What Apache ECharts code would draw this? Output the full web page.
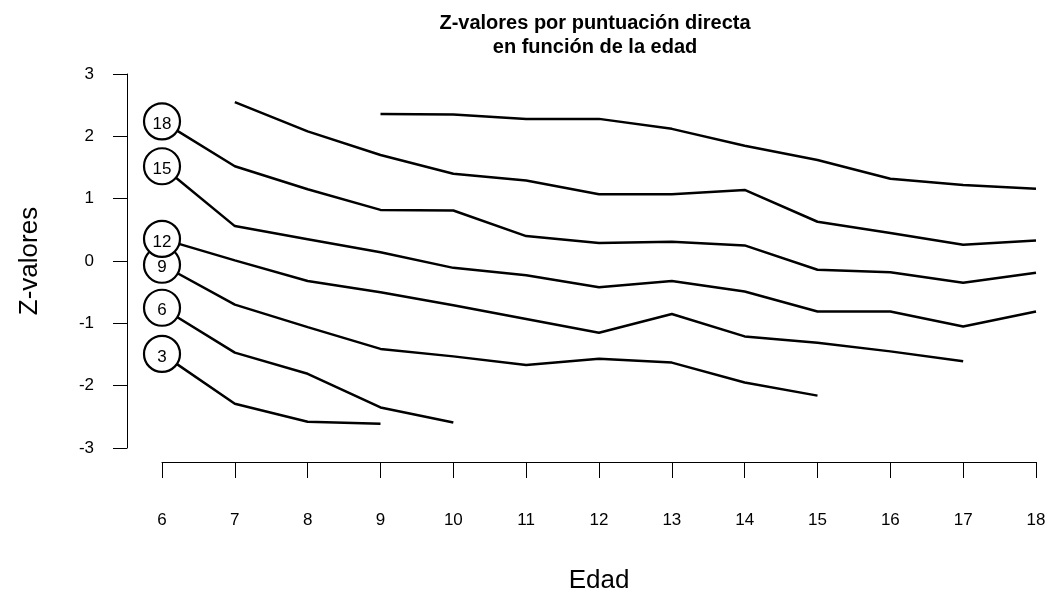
<!DOCTYPE html>
<html>
<head>
<meta charset="utf-8">
<script src="https://cdn.jsdelivr.net/npm/echarts@6/dist/echarts.min.js"></script>
<style>
  html, body { margin: 0; padding: 0; background: #fff; }
  #chart { width: 1051px; height: 599px; }
</style>
</head>
<body>
<div id="chart"></div>
<script>
// edades (eje x)
var ages = [6, 7, 8, 9, 10, 11, 12, 13, 14, 15, 16, 17, 18];
var yTicks = [-3, -2, -1, 0, 1, 2, 3];

// z-valores por puntuacion directa (null = sin dato)
var pd3  = [-1.49, -2.29, -2.58, -2.61, null, null, null, null, null, null, null, null, null];
var pd6  = [-0.75, -1.47, -1.81, -2.35, -2.59, null, null, null, null, null, null, null, null];
var pd9  = [-0.06, -0.70, -1.06, -1.41, -1.53, -1.67, -1.57, -1.63, -1.95, -2.16, null, null, null];
var pd12 = [0.355, 0.01, -0.32, -0.50, -0.71, -0.93, -1.15, -0.85, -1.21, -1.31, -1.45, -1.61, null];
var pd15 = [1.52, 0.56, 0.35, 0.14, -0.11, -0.23, -0.42, -0.32, -0.49, -0.81, -0.81, -1.05, -0.81];
var pd18 = [2.24, 1.52, 1.15, 0.82, 0.81, 0.40, 0.29, 0.31, 0.25, -0.14, -0.18, -0.35, -0.19];
var pd21 = [null, 2.55, 2.08, 1.70, 1.40, 1.29, 1.07, 1.07, 1.14, 0.63, 0.45, 0.26, 0.33];
var pd24 = [null, null, null, 2.36, 2.35, 2.28, 2.28, 2.12, 1.85, 1.62, 1.32, 1.22, 1.16];

// circulos con etiqueta a los 6 anos
var circleLabels = ['3', '6', '9', '12', '15', '18'];
var circleSeries = [pd3, pd6, pd9, pd12, pd15, pd18];

var allSeries = [
  { name: '3', values: pd3 },
  { name: '6', values: pd6 },
  { name: '9', values: pd9 },
  { name: '12', values: pd12 },
  { name: '15', values: pd15 },
  { name: '18', values: pd18 },
  { name: '21', values: pd21 },
  { name: '24', values: pd24 }
];

function toPairs(values) {
  var out = [];
  for (var i = 0; i < ages.length; i++) {
    if (values[i] !== null) out.push([ages[i], values[i]]);
  }
  return out;
}

var FONT = '"Liberation Sans", Arial, sans-serif';

var lineSeries = allSeries.map(function (s) {
  return {
    name: s.name,
    type: 'line',
    data: toPairs(s.values),
    showSymbol: false,
    symbol: 'none',
    lineStyle: { color: '#000', width: 2.5 },
    z: 2,
    silent: true
  };
});

var circleData = circleSeries.map(function (v, i) {
  return { value: [ages[0], v[0]], label: { formatter: circleLabels[i] } };
});

var myChart = echarts.init(document.getElementById('chart'), null, { renderer: 'canvas' });

var option = {
  backgroundColor: '#fff',
  animation: false,
  title: {
    text: 'Z-valores por puntuación directa\nen función de la edad',
    left: 590,
    top: 6,
    textAlign: 'center',
    textStyle: {
      fontFamily: FONT,
      fontWeight: 'bold',
      fontSize: 20,
      lineHeight: 24,
      color: '#000'
    }
  },
  grid: { left: 162, right: 15, top: 74, bottom: 149 },
  xAxis: {
    type: 'value',
    min: 6,
    max: 18,
    interval: 1,
    offset: 14,
    name: 'Edad',
    nameLocation: 'middle',
    nameGap: 106,
    nameTextStyle: { fontFamily: FONT, fontSize: 26, color: '#000' },
    axisLine: { show: true, onZero: false, lineStyle: { color: '#000', width: 1 } },
    axisTick: { show: true, length: 16, lineStyle: { color: '#000', width: 1 } },
    axisLabel: { margin: 50, fontFamily: FONT, fontSize: 17, color: '#000' },
    splitLine: { show: false }
  },
  yAxis: {
    type: 'value',
    min: yTicks[0],
    max: yTicks[yTicks.length - 1],
    interval: 1,
    offset: 35,
    name: 'Z-valores',
    nameLocation: 'middle',
    nameGap: 84,
    nameTextStyle: { fontFamily: FONT, fontSize: 26, color: '#000' },
    axisLine: { show: true, onZero: false, lineStyle: { color: '#000', width: 1 } },
    axisTick: { show: true, length: 14, lineStyle: { color: '#000', width: 1 } },
    axisLabel: { margin: 33, fontFamily: FONT, fontSize: 17, color: '#000' },
    splitLine: { show: false }
  },
  series: lineSeries.concat([{
    name: 'circulos',
    type: 'scatter',
    data: circleData,
    symbol: 'circle',
    symbolSize: 36,
    z: 5,
    silent: true,
    itemStyle: { color: '#fff', borderColor: '#000', borderWidth: 2.2, opacity: 1 },
    label: {
      show: true,
      position: 'inside',
      offset: [0, 3],
      fontFamily: FONT,
      fontSize: 17,
      color: '#000'
    }
  }])
};

myChart.setOption(option);
window.addEventListener('resize', function () {
  myChart.resize();
});
</script>
</body>
</html>
